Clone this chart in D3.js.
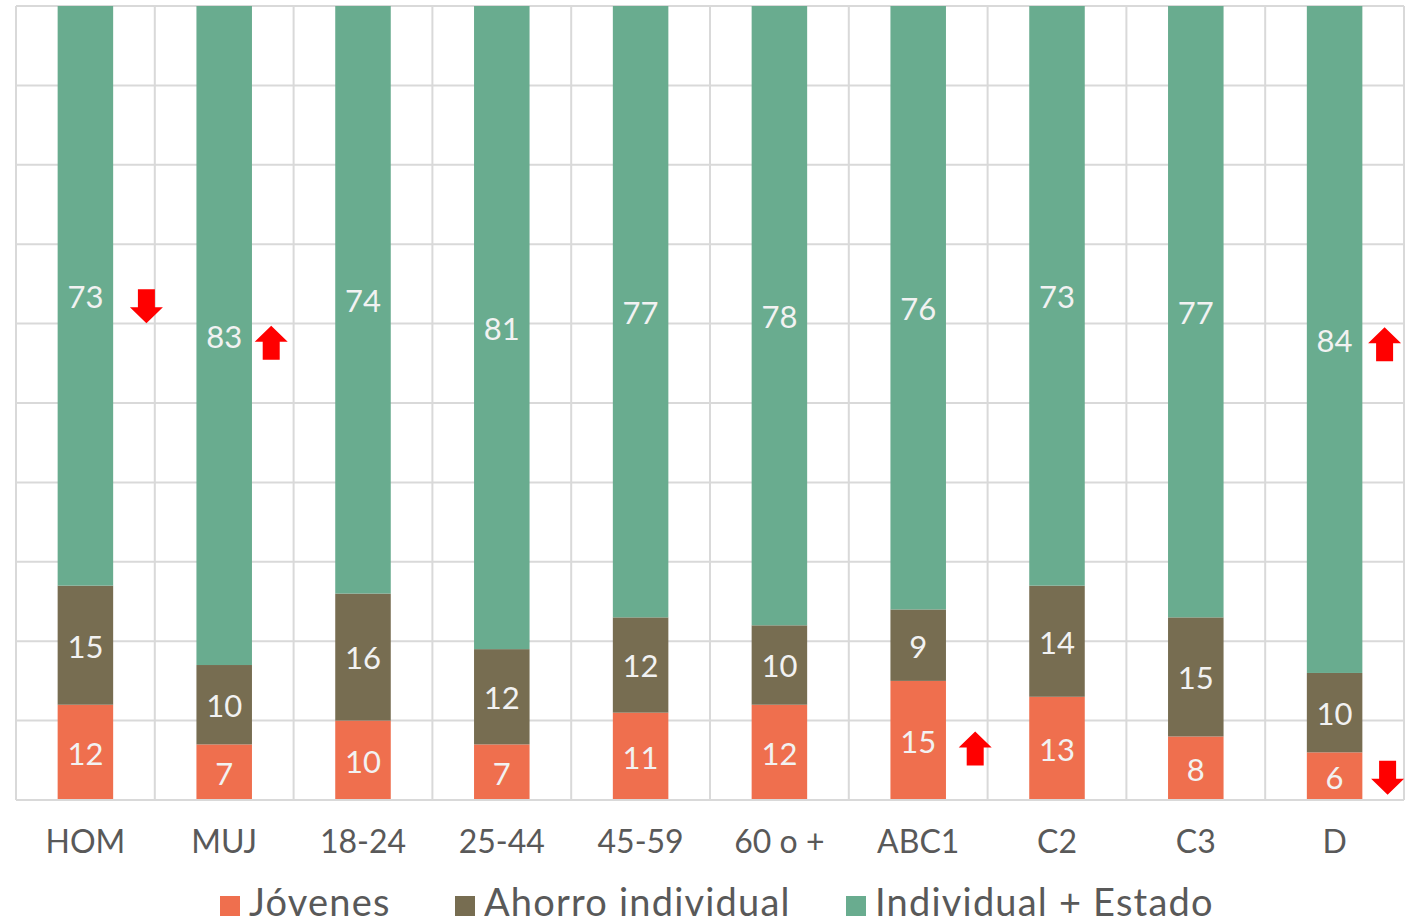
<!DOCTYPE html>
<html><head><meta charset="utf-8">
<script src="https://cdn.jsdelivr.net/npm/d3@7"></script>
<style>html,body{margin:0;padding:0;background:#fff;overflow:hidden}</style>
</head><body>
<svg id="c" width="1416" height="923"></svg>
<script>
const categories = ["HOM","MUJ","18-24","25-44","45-59","60 o +","ABC1","C2","C3","D"];
const seriesNames = ["Jóvenes","Ahorro individual","Individual + Estado"];
const jovenes = [12,7,10,7,11,12,15,13,8,6];
const ahorro = [15,10,16,12,12,10,9,14,15,10];
const indEstado = [73,83,74,81,77,78,76,73,77,84];
const yTicks = [0,10,20,30,40,50,60,70,80,90,100];
// arrows: category, direction, value position (percent)
const arrowCats = ["HOM","MUJ","ABC1","D","D"];
const arrowDirs = ["down","up","up","up","down"];
const arrowVals = [62.2,57.6,6.5,57.4,2.8];
const arrowDx = [61,47,57,50,53];

const colors = ["#EF6F4E","#776D51","#69AC8F"];
const font = "'Century Gothic','Lato','Noto Sans',sans-serif";
const svg = d3.select("#c");
const L=16,R=1404,T=6,B=800;
const x = d3.scaleBand().domain(categories).range([L,R]).paddingInner(0.6).paddingOuter(0.3);
const y = d3.scaleLinear().domain([0,100]).range([B,T]);
const step = x.step();

const grid = svg.append("g");
grid.selectAll("line.h").data(yTicks).join("line")
  .attr("x1",L).attr("x2",R).attr("y1",d=>y(d)).attr("y2",d=>y(d))
  .attr("stroke","#D9D9D9").attr("stroke-width",2);
grid.selectAll("line.v").data(d3.range(categories.length+1)).join("line")
  .attr("x1",i=>L+i*step).attr("x2",i=>L+i*step).attr("y1",T).attr("y2",B)
  .attr("stroke","#D9D9D9").attr("stroke-width",2);

const rows = categories.map((c,i)=>({cat:c, "Jóvenes":jovenes[i], "Ahorro individual":ahorro[i], "Individual + Estado":indEstado[i]}));
const stack = d3.stack().keys(seriesNames)(rows);

const g = svg.append("g");
stack.forEach((s,si)=>{
  g.selectAll(null).data(s).join("rect")
    .attr("x",d=>x(d.data.cat)).attr("width",x.bandwidth())
    .attr("y",d=>y(d[1])).attr("height",d=>y(d[0])-y(d[1]))
    .attr("fill",colors[si]);
  g.selectAll(null).data(s).join("text")
    .attr("x",d=>x(d.data.cat)+x.bandwidth()/2)
    .attr("y",d=>(y(d[0])+y(d[1]))/2)
    .attr("dy","0.4em")
    .attr("text-anchor","middle")
    .attr("font-family",font).attr("font-size",31)
    .attr("fill","#F2F2F2")
    .text(d=>d[1]-d[0]);
});

// axis line
svg.append("line").attr("x1",L).attr("x2",R).attr("y1",B).attr("y2",B).attr("stroke","#D9D9D9").attr("stroke-width",2);

// category labels
svg.selectAll("text.cat").data(categories).join("text")
  .attr("x",d=>x(d)+x.bandwidth()/2).attr("y",853)
  .attr("text-anchor","middle").attr("font-family",font).attr("font-size",32)
  .attr("fill","#595959").text(d=>d);

// arrows
const aw=33, sw=17, hh=16, sh=18;
arrowCats.forEach((c,i)=>{
  const cx = x(c)+x.bandwidth()/2+arrowDx[i];
  const cy = y(arrowVals[i]);
  const tot = hh+sh;
  let pts;
  if(arrowDirs[i]==="down"){
    const top=cy-tot/2;
    pts=[[cx-sw/2,top],[cx+sw/2,top],[cx+sw/2,top+sh],[cx+aw/2,top+sh],[cx,top+tot],[cx-aw/2,top+sh],[cx-sw/2,top+sh]];
  } else {
    const top=cy-tot/2;
    pts=[[cx,top],[cx+aw/2,top+hh],[cx+sw/2,top+hh],[cx+sw/2,top+tot],[cx-sw/2,top+tot],[cx-sw/2,top+hh],[cx-aw/2,top+hh]];
  }
  svg.append("polygon").attr("points",pts.map(p=>p.join(",")).join(" ")).attr("fill","#FF0000");
});

// legend
const legX = [220,455,846];
const lg = svg.append("g");
seriesNames.forEach((n,i)=>{
  lg.append("rect").attr("x",legX[i]).attr("y",896).attr("width",20).attr("height",20).attr("fill",colors[i]);
  lg.append("text").attr("x",legX[i]+29).attr("y",916).attr("font-family",font).attr("font-size",38)
    .attr("letter-spacing",1.2)
    .attr("fill","#595959").text(n);
});
</script>
</body></html>
